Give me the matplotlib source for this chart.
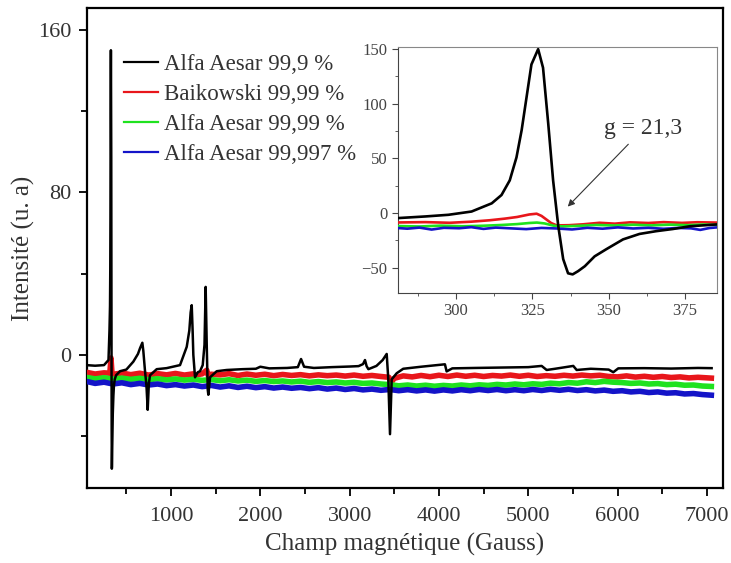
import matplotlib
matplotlib.use("Agg")
import matplotlib.pyplot as plt
from matplotlib.ticker import MultipleLocator

plt.rcParams['font.family'] = ['Liberation Serif', 'DejaVu Serif']

# ---- main spectrum (field in Gauss, intensity in a.u.) ----
black_field = [50, 150, 250, 300, 311, 317, 320, 322, 324, 326, 327, 328.5, 331, 332.5, 334, 335.6,
               337.3, 339, 342, 348, 355, 361, 370, 385, 429, 500, 578, 630, 653, 679, 690, 709,
               725, 739, 752, 765, 840, 950, 1101, 1176, 1205, 1220, 1232, 1242, 1250, 1269,
               1300, 1325, 1355, 1375, 1388, 1400, 1411, 1418, 1437, 1512, 1624, 1800, 1950,
               2000, 2100, 2300, 2420, 2456, 2490, 2600, 2800, 3000, 3100, 3150, 3172, 3190,
               3210, 3300, 3370, 3415, 3433, 3452, 3471, 3527, 3600, 3800, 4000, 4067, 4086,
               4150, 4400, 4700, 5000, 5150, 5206, 5300, 5504, 5542, 5700, 5900, 5952, 6008,
               6300, 6600, 6900, 7053]
black_int = [-5.0, -5.3, -5.0, -2.5, 12, 24, 42, 67, 118, 142, 150, 133, 97, 48, 0, -36,
             -56, -55, -45, -29, -20, -15, -12, -10, -8.0, -7.2, -3.3, 0.5, 3.3, 6.0, 2.0, -8,
             -15, -27, -14, -10, -7.0, -6.5, -5.0, 4.0, 12, 21, 24.5, 12, 0, -11,
             -8.5, -8.0, -5.0, 5.0, 33.5, 5.0, -17, -19.6, -11, -8.0, -7.4, -7.0, -6.8,
             -5.8, -6.6, -6.4, -6.0, -2.0, -5.8, -6.4, -6.0, -5.7, -5.5, -4.5, -2.5, -5.5,
             -7.0, -5.4, -2.5, 0.5, -12, -39, -12, -9.0, -6.8, -5.8, -4.9, -4.6, -8.1,
             -6.6, -6.4, -6.2, -6.0, -5.4, -7.4, -6.8, -5.4, -7.4, -6.8, -7.2, -8.5, -6.6,
             -6.5, -6.7, -6.4, -6.5]

red_field = [50, 150, 250, 315, 328, 340, 450, 550, 650, 750, 850, 950, 1050, 1150, 1250, 1265,
             1280, 1350, 1400, 1415, 1450, 1550, 1650, 1750, 1850, 1950, 2050, 2150, 2250, 2350,
             2450, 2550, 2650, 2750, 2850, 2950, 3050, 3150, 3250, 3350, 3440, 3465, 3500,
             3600, 3700, 3800, 3900, 4000, 4100, 4200, 4300, 4400, 4500, 4600, 4700, 4800,
             4900, 5000, 5100, 5200, 5300, 5400, 5500, 5600, 5700, 5800, 5900, 6000, 6100,
             6200, 6300, 6400, 6500, 6600, 6700, 6800, 6900, 7050]
red_int = [-8.5, -9.4, -8.8, -9.0, -1.5, -9.6, -8.9, -9.7, -9.0, -9.9, -9.2, -9.8, -9.1, -9.9, -9.3, -12,
           -9.8, -9.3, -7.5, -10, -9.5, -9.8, -9.2, -10.1, -9.4, -10.0, -9.5, -10.2, -9.6, -10.1,
           -9.7, -10.3, -9.8, -10.2, -9.9, -10.4, -9.9, -10.5, -10.1, -10.6, -11, -13.5, -11.5,
           -10.3, -10.8, -10.1, -10.7, -10.0, -10.6, -9.9, -10.5, -10.0, -10.6, -10.1, -10.4, -9.9,
           -10.5, -10.0, -10.6, -10.2, -10.5, -10.0, -10.4, -9.9, -10.3, -10.0, -10.6, -10.8, -10.3,
           -10.9, -10.5, -11.0, -10.6, -11.1, -10.8, -11.3, -11.0, -11.4]

green_field = [50, 150, 250, 350, 450, 550, 650, 750, 850, 950, 1050, 1150, 1250, 1350, 1450,
               1550, 1650, 1750, 1850, 1950, 2050, 2150, 2250, 2350, 2450, 2550, 2650, 2750,
               2850, 2950, 3050, 3150, 3250, 3350, 3450, 3550, 3650, 3750, 3850, 3950, 4050,
               4150, 4250, 4350, 4450, 4550, 4650, 4750, 4850, 4950, 5050, 5150, 5250, 5350,
               5450, 5550, 5650, 5750, 5850, 5950, 6050, 6150, 6250, 6350, 6450, 6550, 6650,
               6750, 6850, 6950, 7050]
green_int = [-11.0, -11.8, -11.2, -11.9, -11.4, -12.0, -11.5, -12.2, -11.7, -12.3, -11.8, -12.4, -12.0, -12.5,
             -12.1, -12.7, -12.2, -12.8, -12.4, -13.0, -12.6, -13.1, -12.8, -13.3, -12.9, -13.5, -13.1,
             -13.6, -13.3, -13.8, -13.5, -14.0, -13.8, -14.3, -14.6, -15.2, -14.8, -15.3, -14.9,
             -15.4, -15.0, -15.3, -14.8, -15.2, -14.7, -15.0, -14.5, -14.8, -14.3, -14.7, -14.2,
             -14.5, -13.9, -14.2, -13.6, -13.9, -13.2, -13.6, -13.0, -13.4, -13.6, -14.0, -13.8,
             -14.3, -14.1, -14.6, -14.4, -14.9, -14.8, -15.3, -15.5]

blue_field = [50, 150, 250, 350, 450, 550, 650, 750, 850, 950, 1050, 1150, 1250, 1350, 1450,
              1550, 1650, 1750, 1850, 1950, 2050, 2150, 2250, 2350, 2450, 2550, 2650, 2750,
              2850, 2950, 3050, 3150, 3250, 3350, 3450, 3550, 3650, 3750, 3850, 3950, 4050,
              4150, 4250, 4350, 4450, 4550, 4650, 4750, 4850, 4950, 5050, 5150, 5250, 5350,
              5450, 5550, 5650, 5750, 5850, 5950, 6050, 6150, 6250, 6350, 6450, 6550, 6650,
              6750, 6850, 6950, 7050]
blue_int = [-13.0, -14.0, -13.4, -14.3, -13.7, -14.6, -14.0, -14.8, -14.3, -15.1, -14.6, -15.3, -14.8, -15.6,
            -15.0, -15.8, -15.2, -16.0, -15.4, -16.1, -15.6, -16.3, -15.8, -16.4, -16.0, -16.6, -16.1,
            -16.8, -16.3, -17.0, -16.5, -17.2, -16.8, -17.4, -17.0, -17.6, -17.1, -17.7, -17.2,
            -17.8, -17.2, -17.7, -17.1, -17.6, -17.0, -17.5, -17.0, -17.6, -17.1, -17.6, -17.0,
            -17.5, -16.9, -17.4, -16.9, -17.5, -17.1, -17.7, -17.3, -17.9, -17.6, -18.2, -17.9,
            -18.5, -18.2, -18.8, -18.6, -19.2, -19.0, -19.5, -19.8]

labels = ["Alfa Aesar 99,9 %", "Baikowski 99,99 %", "Alfa Aesar 99,99 %", "Alfa Aesar 99,997 %"]
colors = ["#000000", "#e8161b", "#1fe21f", "#1414c8"]

# ---- inset: zoom around the g = 21,3 line ----
in_black_x = [281, 290, 297.5, 305.1, 311.7, 314.9, 317.6, 319.8, 321.5, 323.1, 324.7, 326.9,
              328.5, 330.2, 331.8, 333.5, 335.1, 336.7, 338.2, 340, 342.2, 345.4, 349.2, 354.7,
              360.1, 365.5, 371, 376.5, 385.5]
in_black_y = [-4.5, -3.0, -1.5, 1.5, 9, 16.6, 30, 51, 76, 106, 136, 150,
              133, 82, 30, -12, -42, -55, -56, -53, -48.5, -39.5, -33, -24,
              -19, -16.5, -14.5, -12, -10.3]
in_red_x = [281, 290, 298, 305, 311, 316, 320, 324, 326.4, 328, 331.2, 333, 337, 341.6, 347, 352,
            357, 363, 368, 374, 379, 385.5]
in_red_y = [-8.5, -8.2, -8.8, -7.8, -6.5, -5.0, -3.5, -1.2, -0.5, -2.5, -9.1, -11.2, -11.0, -10.2, -8.8, -9.6,
            -8.4, -9.0, -8.2, -8.9, -8.3, -8.6]
in_green_x = [281, 288, 295, 302, 309, 315, 320, 324, 326.5, 329, 332, 335, 340, 346, 352, 358,
              364, 370, 376, 381, 385.5]
in_green_y = [-11.8, -12.2, -11.4, -12.0, -11.5, -10.8, -10.0, -9.0, -8.6, -9.4, -11.5, -12.1, -11.6, -10.8, -11.3, -10.6,
              -11.2, -10.5, -11.0, -10.4, -10.8]
in_blue_x = [281, 284, 288, 292, 296, 301, 305, 309, 313, 318, 323, 328, 333, 338, 343, 348, 353,
             358, 363, 368, 373, 377, 380, 383, 385.5]
in_blue_y = [-13.6, -14.2, -13.2, -15.0, -13.4, -13.8, -12.8, -14.4, -13.2, -13.9, -14.6, -13.5, -14.0, -14.9, -13.4, -14.2, -13.0,
             -14.0, -13.4, -14.3, -13.5, -13.9, -15.3, -13.6, -13.0]

main_series = [(black_field, black_int), (red_field, red_int), (green_field, green_int), (blue_field, blue_int)]
inset_series = [(in_black_x, in_black_y), (in_red_x, in_red_y), (in_green_x, in_green_y), (in_blue_x, in_blue_y)]

fig = plt.figure(figsize=(7.31, 5.63), dpi=100)
ax = fig.add_axes([0.1186, 0.1332, 0.8704, 0.8526])

for i, ((x, y), lab, c) in enumerate(zip(main_series, labels, colors)):
    lw = 1.8 if i == 0 else 4.0
    ax.plot(x, y, color=c, lw=lw, label=lab, zorder=5 if i == 0 else 4)

ax.set_xlim(56, 7180)
ax.set_ylim(-65.5, 170.8)
ax.xaxis.set_major_locator(MultipleLocator(1000))
ax.xaxis.set_minor_locator(MultipleLocator(500))
ax.yaxis.set_major_locator(MultipleLocator(80))
ax.yaxis.set_minor_locator(MultipleLocator(40))
ax.tick_params(which='both', direction='out', top=False, right=False, width=1.3, labelsize=16)
ax.tick_params(which='major', length=6)
ax.tick_params(which='minor', length=4)
ax.tick_params(axis='x', which='major', pad=8)
ax.tick_params(axis='y', which='major', pad=5)
for s in ax.spines.values():
    s.set_linewidth(1.6)
ax.set_xlabel("Champ magnétique (Gauss)", fontsize=18, color='#333333', labelpad=5)
ax.set_ylabel("Intensité (u. a)", fontsize=18, color='#333333', labelpad=2)
for t in ax.get_xticklabels() + ax.get_yticklabels():
    t.set_color('#333333')

leg = ax.legend(loc='upper left', bbox_to_anchor=(0.058, 0.905), frameon=False, fontsize=16.5,
                handlelength=1.5, handletextpad=0.25, labelspacing=0.4, borderpad=0, borderaxespad=0)
for line in leg.get_lines():
    line.set_linewidth(1.6)
for t in leg.get_texts():
    t.set_color('#333333')

# inset
axi = fig.add_axes([0.5445, 0.4796, 0.4364, 0.437])
for i, ((x, y), c) in enumerate(zip(inset_series, colors)):
    axi.plot(x, y, color=c, lw=1.9, zorder=5 if i == 0 else 3)
axi.set_xlim(281, 385.5)
axi.set_ylim(-73, 152)
axi.xaxis.set_major_locator(MultipleLocator(25))
axi.xaxis.set_minor_locator(MultipleLocator(12.5))
axi.yaxis.set_major_locator(MultipleLocator(50))
axi.yaxis.set_minor_locator(MultipleLocator(25))
axi.tick_params(which='both', direction='out', top=False, right=False, labelsize=12, colors='#444444')
axi.tick_params(which='major', length=4)
axi.tick_params(which='minor', length=2.5)
for side in ['top', 'right']:
    axi.spines[side].set_color('#888888')
for side in ['left', 'bottom']:
    axi.spines[side].set_color('#444444')
axi.annotate("g = 21,3", xy=(336.6, 6), xytext=(348.5, 77), fontsize=17, color='#333333',
             va='center', ha='left',
             arrowprops=dict(arrowstyle='-|>', color='#333333', lw=0.8, mutation_scale=10,
                             shrinkA=2, shrinkB=0))

fig.savefig("out.png", dpi=100)
